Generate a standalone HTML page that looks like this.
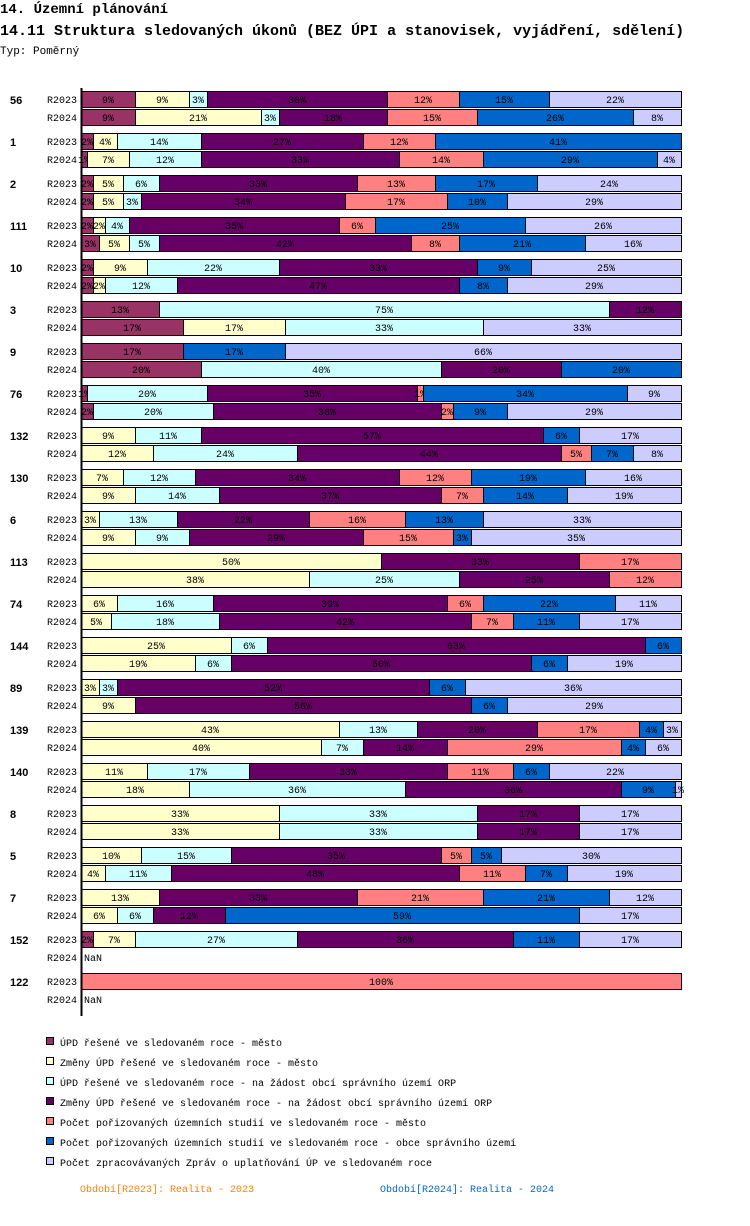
<!DOCTYPE html>
<html><head><meta charset="utf-8">
<style>
body{margin:0;background:#fff;width:750px;height:1226px;overflow:hidden;font-family:"Liberation Mono",monospace;}
svg{position:absolute;left:0;top:0}
</style></head>
<body>
<svg id="chart" width="750" height="1226" xmlns="http://www.w3.org/2000/svg">
<text x="0" y="13" font-family="Liberation Mono, monospace" font-size="14" font-weight="bold" fill="#000">14. Územní plánování</text>
<text x="0" y="35" font-family="Liberation Mono, monospace" font-size="15" font-weight="bold" fill="#000">14.11 Struktura sledovaných úkonů (BEZ ÚPI a stanovisek, vyjádření, sdělení)</text>
<text x="0" y="54" font-family="Liberation Mono, monospace" font-size="11" fill="#000">Typ: Poměrný</text>
<g id="bars"></g>
<g id="legend"></g>
<text x="80" y="1192" font-family="Liberation Mono, monospace" font-size="10" fill="#ff8000">Období[R2023]: Realita - 2023</text>
<text x="380" y="1192" font-family="Liberation Mono, monospace" font-size="10" fill="#0066cc">Období[R2024]: Realita - 2024</text>
</svg>
<script>
const groups = ["56","1","2","111","10","3","9","76","132","130","6","113","74","144","89","139","140","8","5","7","152","122"];
const seriesNames = ["ÚPD řešené ve sledovaném roce - město","Změny ÚPD řešené ve sledovaném roce - město","ÚPD řešené ve sledovaném roce - na žádost obcí správního území ORP","Změny ÚPD řešené ve sledovaném roce - na žádost obcí správního území ORP","Počet pořizovaných územních studií ve sledovaném roce - město","Počet pořizovaných územních studií ve sledovaném roce - obce správního území","Počet zpracovávaných Zpráv o uplatňování ÚP ve sledovaném roce"];
const colors = ["#993366","#ffffcc","#ccffff","#660066","#ff8080","#0066cc","#ccccff"];
const r2023 = [
[9,9,3,30,12,15,22],[2,4,14,27,12,41,0],[2,5,6,33,13,17,24],[2,2,4,35,6,25,26],[2,9,22,33,0,9,25],
[13,0,75,12,0,0,0],[17,0,0,0,0,17,66],[1,0,20,35,1,34,9],[0,9,11,57,0,6,17],[0,7,12,34,12,19,16],
[0,3,13,22,16,13,33],[0,50,0,33,17,0,0],[0,6,16,39,6,22,11],[0,25,6,63,0,6,0],[0,3,3,52,0,6,36],
[0,43,13,20,17,4,3],[0,11,17,33,11,6,22],[0,33,33,17,0,0,17],[0,10,15,35,5,5,30],[0,13,0,33,21,21,12],
[2,7,27,36,0,11,17],[0,0,0,0,100,0,0]];
const r2024 = [
[9,21,3,18,15,26,8],[1,7,12,33,14,29,4],[2,5,3,34,17,10,29],[3,5,5,42,8,21,16],[2,2,12,47,0,8,29],
[17,17,33,0,0,0,33],[20,0,40,20,0,20,0],[2,0,20,38,2,9,29],[0,12,24,44,5,7,8],[0,9,14,37,7,14,19],
[0,9,9,29,15,3,35],[0,38,25,25,12,0,0],[0,5,18,42,7,11,17],[0,19,6,50,0,6,19],[0,9,0,56,0,6,29],
[0,40,7,14,29,4,6],[0,18,36,36,0,9,1],[0,33,33,17,0,0,17],[0,4,11,48,11,7,19],[0,6,6,12,0,59,17],
null,null];
const periods = ["R2023","R2024"];
const NS="http://www.w3.org/2000/svg";
const X0=81, W=600, Y0=91, PITCH=42, ROWGAP=18, BH=16;
const xScale = f => X0 + f*W;
const gTop = i => Y0 + i*PITCH;
function mk(tag, attrs, parent){const e=document.createElementNS(NS,tag);for(const k in attrs)e.setAttribute(k,attrs[k]);parent.appendChild(e);return e;}
const bars=document.getElementById('bars');
const fontF="Liberation Mono, monospace";
groups.forEach((g,i)=>{
  const gl=mk('text',{x:10,y:gTop(i)+13,'font-family':'Liberation Sans, sans-serif','font-size':11,'font-weight':'bold'},bars);
  
  
  gl.textContent=g;
  [r2023[i],r2024[i]].forEach((vals,p)=>{
    const y=gTop(i)+p*ROWGAP;
    const pl=mk('text',{x:47,y:y+12,'font-family':fontF,'font-size':10},bars);
    
    
    pl.textContent=periods[p];
    if(!vals){
      const n=mk('text',{x:84,y:y+12,'font-family':fontF,'font-size':10},bars);
      
      
      n.textContent='NaN';
      return;
    }
    const tot=vals.reduce((a,b)=>a+b,0);
    let acc=0;
    vals.forEach((v,s)=>{
      if(v<=0)return;
      const x1=xScale(acc/tot), x2=xScale((acc+v)/tot);
      acc+=v;
      const r=mk('rect',{x:x1+0.5,y:y+0.5,width:Math.max(x2-x1,1),height:BH,fill:colors[s],stroke:'#000','stroke-width':1},bars);
      
      
      const t=mk('text',{x:(x1+x2)/2,y:y+12,'text-anchor':'middle','font-family':fontF,'font-size':10,fill:'#000'},bars);
      
      
      t.textContent=v+'%';
    });
  });
});
const ax=mk('line',{x1:81.5,y1:88,x2:81.5,y2:1016,stroke:'#000','stroke-width':2},bars);


const leg=document.getElementById('legend');
seriesNames.forEach((n,s)=>{
  const y=1042+s*20;
  const sq=mk('rect',{x:46.5,y:y-4.5,width:7,height:7,fill:colors[s],stroke:'#000','stroke-width':1},leg);
  
  
  const t=mk('text',{x:60,y:y+4,'font-family':fontF,'font-size':10},leg);
  
  
  t.textContent=n;
});
</script>
</body></html>
